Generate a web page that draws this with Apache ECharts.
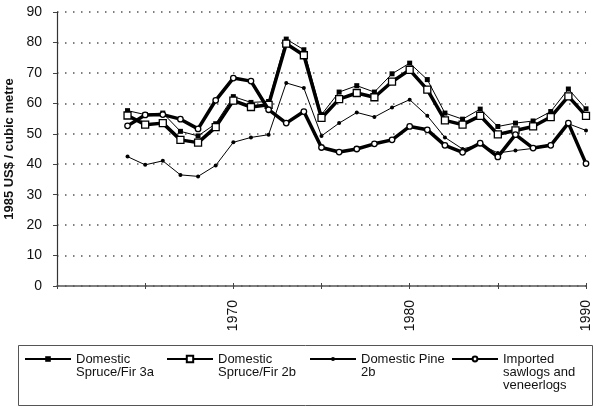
<!DOCTYPE html>
<html>
<head>
<meta charset="utf-8">
<script src="https://cdn.jsdelivr.net/npm/echarts@6/dist/echarts.min.js"></script>
<style>
html,body{margin:0;padding:0;background:#fff;}
#chart{width:600px;height:411px;}
</style>
</head>
<body>
<div id="chart"></div>
<script>
// ---- data ----
var years = [1964,1965,1966,1967,1968,1969,1970,1971,1972,1973,1974,1975,1976,1977,1978,1979,1980,1981,1982,1983,1984,1985,1986,1987,1988,1989,1990];
var spruceFir3a = [57.6,56.3,56.8,50.8,49.3,53.3,62.2,60.3,60.6,81.1,77.6,56.3,63.7,65.8,63.7,69.7,73.2,67.8,56.8,54.8,58.1,52.4,53.5,54.2,57.3,64.7,58.2];
var spruceFir2b = [56.0,53.0,53.5,48.0,47.1,52.2,60.9,58.8,59.5,79.6,75.8,55.2,61.4,63.4,62.0,67.1,71.0,64.5,54.4,53.0,55.9,49.8,51.1,52.4,55.5,62.3,55.9];
var pine2b = [42.5,39.8,41.1,36.5,36.0,39.6,47.2,48.8,49.7,66.7,65.0,49.3,53.5,57.0,55.5,58.6,61.2,55.9,48.8,45.0,46.5,43.7,44.5,45.2,46.6,53.3,51.1];
var imported = [52.6,56.2,56.3,54.8,51.6,61.0,68.3,67.3,57.9,53.5,57.3,45.5,44.0,45.0,46.7,48.0,52.4,51.3,46.2,43.9,46.9,42.4,49.7,45.3,46.2,53.5,40.2];
var seriesNames = ['Domestic\nSpruce/Fir 3a','Domestic\nSpruce/Fir 2b','Domestic Pine\n2b','Imported\nsawlogs and\nveneerlogs'];
var xLabelYears = [1970,1980,1990];
var yAxisTitle = '1985 US$ / cubic metre';

function pairs(vals){ return years.map(function(y,i){ return [y, vals[i]]; }); }

var FONT = '"Liberation Sans", Arial, sans-serif';
var chart = echarts.init(document.getElementById('chart'), null, {renderer:'canvas'});

// Put the first text line level with the legend icon by padding blank lines above
function legendFor(name, left, top, itemHeight){
  return {
    data:[name], left:left, top:top, orient:'horizontal', padding:0,
    itemWidth:46, itemHeight:itemHeight, itemGap:0, selectedMode:false,
    formatter:function(n){
      var lines = n.split('\n');
      var pad = [];
      for (var i = 1; i < lines.length; i++) pad.push(' ');
      return pad.concat(lines).join('\n');
    },
    textStyle:{fontFamily:FONT, fontSize:13, color:'#111', lineHeight:13}
  };
}

var option = {
  animation:false,
  backgroundColor:'#fff',
  grid:{left:57, right:14, top:12, bottom:125, containLabel:false, outerBoundsMode:'none'},
  xAxis:[{
    type:'value', min:1960, max:1990, interval:5,
    axisLine:{show:true, lineStyle:{color:'#555', width:1.5}},
    axisTick:{show:true, length:3, lineStyle:{color:'#444', width:1}},
    splitLine:{show:false},
    axisLabel:{rotate:90, margin:14, fontFamily:FONT, fontSize:14, color:'#111',
      formatter:function(v){ return xLabelYears.indexOf(v) >= 0 ? String(v) : ''; }}
  },{
    type:'value', min:1960, max:1990, interval:5, position:'bottom',
    axisLine:{show:false},
    axisTick:{show:true, inside:true, length:3, lineStyle:{color:'#444', width:1}},
    axisLabel:{show:false}, splitLine:{show:false}
  }],
  yAxis:{
    type:'value', min:0, max:90, interval:10,
    name:yAxisTitle, nameLocation:'middle', nameGap:41, nameRotate:90,
    nameTextStyle:{fontFamily:FONT, fontSize:13, fontWeight:'bold', color:'#111'},
    axisLine:{show:true, lineStyle:{color:'#333', width:1.2}},
    axisTick:{show:true, length:4, lineStyle:{color:'#444'}},
    axisLabel:{margin:15, fontFamily:FONT, fontSize:14, color:'#111'},
    splitLine:{show:true, lineStyle:{color:'#555', width:1.5, type:[1.5,6.5]}}
  },
  legend:[
    legendFor(seriesNames[0], 24, 339.5, 7),
    legendFor(seriesNames[1], 166, 339.5, 8),
    legendFor(seriesNames[2], 309, 339.5, 5),
    legendFor(seriesNames[3], 451, 326.5, 6)
  ],
  graphic:[{
    type:'rect', left:16, top:343, shape:{width:574, height:60},
    style:{fill:'none', stroke:'#555', lineWidth:1}, silent:true
  }],
  series:[
    {name:seriesNames[0], type:'line', data:pairs(spruceFir3a), symbol:'rect', symbolSize:5,
     lineStyle:{color:'#000', width:1}, itemStyle:{color:'#000'}, z:2},
    {name:seriesNames[1], type:'line', data:pairs(spruceFir2b), symbol:'rect', symbolSize:7,
     lineStyle:{color:'#000', width:3.5}, itemStyle:{color:'#fff', borderColor:'#000', borderWidth:1.3}, z:3},
    {name:seriesNames[2], type:'line', data:pairs(pine2b), symbol:'circle', symbolSize:4,
     lineStyle:{color:'#000', width:1}, itemStyle:{color:'#000'}, z:4},
    {name:seriesNames[3], type:'line', data:pairs(imported), symbol:'circle', symbolSize:5.5,
     lineStyle:{color:'#000', width:3.5}, itemStyle:{color:'#fff', borderColor:'#000', borderWidth:1.3}, z:5}
  ]
};
chart.setOption(option);
</script>
</body>
</html>
